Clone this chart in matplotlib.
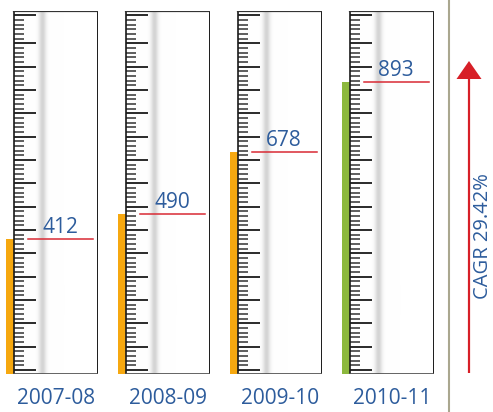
import numpy as np
import matplotlib
matplotlib.use("Agg")
import matplotlib.pyplot as plt

# Data
years = ["2007-08", "2008-09", "2009-10", "2010-11"]
values = [412, 490, 678, 893]
bar_colors = ["#f6a810", "#f6a810", "#f6a810", "#8cb83d"]
cagr_label = "CAGR 29.42%"

plt.rcParams["font.family"] = ["Open Sans", "DejaVu Sans"]

BLUE = "#2d5c9c"
RED = "#d92a34"

W, H = 493, 412
fig = plt.figure(figsize=(W / 100, H / 100), dpi=100)

YMAX = 1110                      # scale top of each gauge
FRAME_W = 84                     # gauge width in px
FRAME_TOP, FRAME_BOT = 11, 374   # gauge vertical extent in px
BAR_W = 8
u_per_px = YMAX / (FRAME_BOT - FRAME_TOP)

# soft shading strip inside each gauge
xs = np.linspace(0, FRAME_W, 400)
prof = np.exp(-0.5 * ((xs - 28.5) / 2.6) ** 2) * 0.17
strip = np.ones((1, len(xs), 4))
strip[0, :, :3] = (1 - prof)[:, None]

for i, (yr, v, c) in enumerate(zip(years, values, bar_colors)):
    left_px = 14 + 112 * i
    ax = fig.add_axes([(left_px - BAR_W) / W, (H - FRAME_BOT) / H,
                       (FRAME_W + BAR_W) / W, (FRAME_BOT - FRAME_TOP) / H])
    ax.set_xlim(-BAR_W, FRAME_W)
    ax.set_ylim(0, YMAX)
    ax.axis("off")

    ax.imshow(strip, extent=(0, FRAME_W, 0, YMAX), aspect="auto", zorder=0)

    # level bar
    ax.bar(-BAR_W / 2, v, width=BAR_W, color=c, zorder=2)

    # scale ticks
    for k in range(77):
        y = (4 + k * 4.667) * u_per_px
        long_tick = (k % 5 == 0 and k <= 70) or k == 76
        ax.plot([0, 22 if long_tick else 10], [y, y],
                color="#2a2a2a" if long_tick else "#333333",
                lw=1.4 if long_tick else 1.1, solid_capstyle="butt", zorder=3)

    # frame
    ax.plot([0, 0], [0, YMAX], color="#1a1a1a", lw=1.2, zorder=4)
    ax.plot([FRAME_W, FRAME_W], [0, YMAX], color="#1a1a1a", lw=1.4, zorder=4)
    ax.plot([0, FRAME_W], [YMAX, YMAX], color="#333333", lw=1.6, zorder=4)
    ax.plot([0, FRAME_W], [0, 0], color="#555555", lw=2.0, zorder=4)

    # value marker and label
    ax.plot([14, 79], [v, v], color=RED, lw=1.1, zorder=5)
    ax.annotate(f"{v}", xy=(46, v), xytext=(0, 4.5), textcoords="offset points",
                ha="center", va="baseline", fontsize=15, color=BLUE, zorder=6)

    ax.text(FRAME_W / 2, -30 * u_per_px, yr, ha="center", va="baseline",
            fontsize=15, color=BLUE)

# overlay for separator, growth arrow and CAGR label
ov = fig.add_axes([0, 0, 1, 1])
ov.set_xlim(0, W)
ov.set_ylim(H, 0)
ov.axis("off")
ov.patch.set_alpha(0)
ov.plot([449, 449], [0, H], color="#aaa78f", lw=1.5)
ov.arrow(469, 373, 0, -312, width=2.2, head_width=25, head_length=18,
         length_includes_head=True, color="#d71f27", lw=0)
ov.text(482.5, 236, cagr_label, rotation=90, ha="center", va="center",
        fontsize=14.5, color=BLUE)

fig.savefig("out.png", dpi=100)
